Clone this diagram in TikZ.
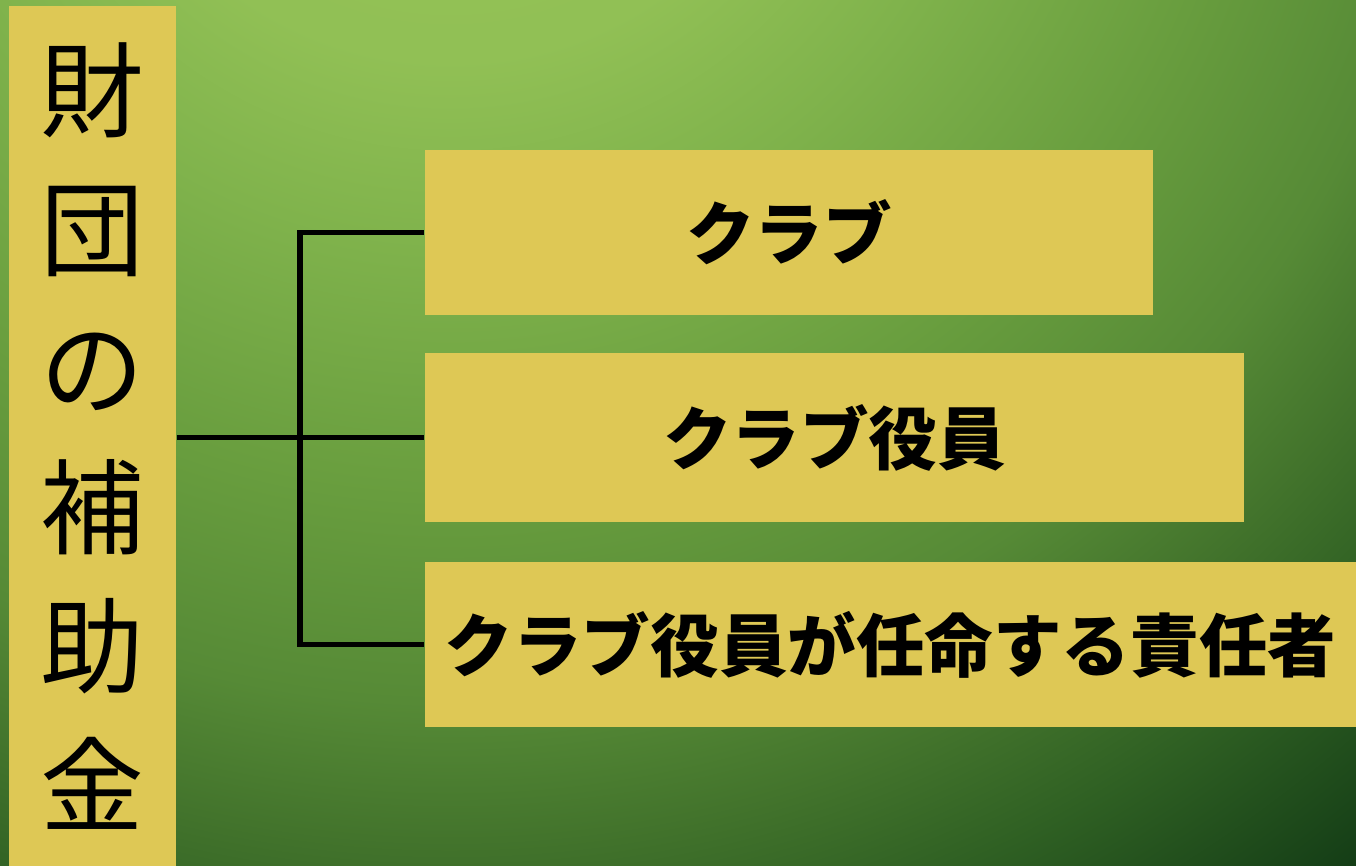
\documentclass[tikz,border=0pt]{standalone}
\usepackage{fontspec}
\newfontfamily\jpfont{Noto Sans CJK JP}
\usetikzlibrary{positioning}
\definecolor{boxyellow}{HTML}{DEC855}
\definecolor{bgA}{HTML}{96C457}
\definecolor{bgB}{HTML}{91C055}
\definecolor{bgC}{HTML}{80B34C}
\definecolor{bgD}{HTML}{689D3E}
\definecolor{bgE}{HTML}{568A36}
\definecolor{bgF}{HTML}{43742C}
\definecolor{bgG}{HTML}{2F6023}
\definecolor{bgH}{HTML}{143D16}
\pgfdeclareradialshading{greenback}{\pgfpoint{0bp}{0bp}}{%
  color(0bp)=(bgA); color(6bp)=(bgB); color(9bp)=(bgC);
  color(13.3bp)=(bgD); color(16.7bp)=(bgE); color(19bp)=(bgF);
  color(21.2bp)=(bgG); color(24.6bp)=(bgH); color(50bp)=(bgH)}
\tikzset{
  every node/.style={font=\jpfont},
  itembox/.style={fill=boxyellow,inner sep=0pt,font=\jpfont\bfseries\fontsize{19.5}{24}\selectfont},
  branch/.style={draw=black,line width=1.7pt},
}

\begin{document}
\begin{tikzpicture}[
  x=0.01cm, y=-0.01cm,
]
\useasboundingbox (0,0) rectangle (1356,866);
\begin{scope}
\clip (0,0) rectangle (1356,866);
\shade[shading=greenback] (450,-300) circle (1500);
\end{scope}

\node[fill=boxyellow,inner sep=0pt,minimum width=1.67cm,minimum height=8.6cm,
  align=center,font=\jpfont\fontsize{29.5}{39.5}\selectfont] (grant) at (92.5,436)
  {財\\団\\の\\補\\助\\金};

\node[itembox,minimum width=7.28cm,minimum height=1.65cm] (club) at (789,232.5) {クラブ};
\node[itembox,minimum width=8.19cm,minimum height=1.69cm] (officer) at (834.5,437.5) {クラブ役員};
\node[itembox,minimum width=9.31cm,minimum height=1.65cm] (appointee) at (890.5,644.5) {クラブ役員が任命する責任者};

\coordinate (split) at (300,437.5);
\draw[branch] (grant.east |- officer.west) -- (officer.west);
\draw[branch] (club.west) -| (split) |- (appointee.west);
\end{tikzpicture}
\end{document}
